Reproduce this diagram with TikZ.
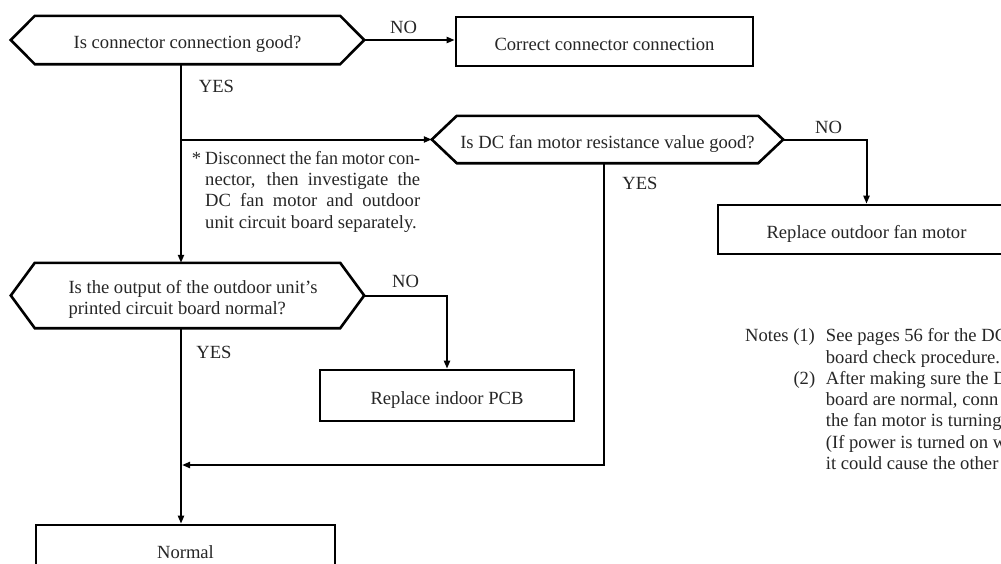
\documentclass[tikz,border=0pt]{standalone}
\usepackage{fontspec}
\usepackage{graphicx}
\setmainfont{Liberation Serif}
\usetikzlibrary{arrows.meta}
\newcommand\hexagonof[2]{%
  \draw[shapeline] ([xshift=-#2]#1.west) -- (#1.north west) -- (#1.north east)
    -- ([xshift=#2]#1.east) -- (#1.south east) -- (#1.south west) -- cycle;}
\newcommand\justline[1]{\makebox[215pt][s]{\spaceskip=1pt plus 1fil\relax #1}}
\begin{document}
\begin{tikzpicture}[x=1pt,y=-1pt,
  every node/.style={font=\fontsize{18.6}{21.3}\selectfont, text=black!85},
  shapeline/.style={line width=2.6pt, line join=miter},
  conn/.style={line width=2pt, line join=miter},
  arr/.style={conn, -{Triangle[length=8pt,width=6pt]}},
  hexq/.style={draw=none, inner sep=0pt, text height=17pt, text depth=0pt},
  boxn/.style={draw, line width=2.6pt, inner sep=0pt, text height=17pt, text depth=0pt},
  lbl/.style={inner sep=0pt, anchor=base}]
\clip (0,0) rectangle (1001,563);
% decision nodes
\node[hexq, minimum width=305pt, minimum height=48pt] (q1) at (187.5,40) {Is connector connection good?};
\node[hexq, minimum width=301pt, minimum height=47pt] (q2) at (607.5,139.5) {Is DC fan motor resistance value good?};
\node[hexq, minimum width=305pt, minimum height=65pt] (q3) at (187.5,295.5) {};
\node[lbl, anchor=base west] (q3a) at (68.3,293.3) {Is the output of the outdoor unit's};
\node[lbl, anchor=base west] (q3b) at (68.3,314.3) {printed circuit board normal?};
\hexagonof{q1}{24pt}
\hexagonof{q2}{25pt}
\hexagonof{q3}{24pt}
\coordinate (q1R) at ([xshift=24pt]q1.east);
\coordinate (q2L) at ([xshift=-25pt]q2.west);
\coordinate (q2R) at ([xshift=25pt]q2.east);
\coordinate (q3R) at ([xshift=24pt]q3.east);
% action boxes
\node[boxn, minimum width=297pt, minimum height=49pt] (b1) at (604.5,41.5) {Correct connector connection};
\node[boxn, minimum width=297pt, minimum height=49pt] (b2) at (866.5,229.5) {Replace outdoor fan motor};
\node[boxn, minimum width=254pt, minimum height=51pt] (b3) at (447,395.5) {Replace indoor PCB};
\node[boxn, minimum width=299pt, minimum height=50pt] (b4) at (185.5,550) {Normal};
% junctions
\coordinate (j1) at (181,139.5);
\coordinate (j2) at (604,465);
\coordinate (j3) at (182,465);
% connectors
\draw[conn] (q1.south -| j1) -- (j1);
\draw[arr] (j1) -- (q2L);
\draw[arr] (j1) -- (q3.north -| j1);
\draw[arr] (q1R) -- (q1R -| b1.west);
\draw[arr] (q2R) -| (b2.north);
\draw[arr] (q3R) -| (b3.north);
\draw[arr] (q2.south -| j2) -- (j2) -- (j3);
\draw[arr] (q3.south -| j1) -- (b4.north -| j1);
% labels
\node[lbl] (y1) at (216.5,92) {YES};
\node[lbl] (n1) at (403.5,33) {NO};
\node[lbl] (y2) at (640,189) {YES};
\node[lbl] (n2) at (828.5,133) {NO};
\node[lbl] (n3) at (405.5,287) {NO};
\node[lbl] (y3) at (214,358) {YES};
% asterisk note
\node[lbl, anchor=base west] (s0) at (191.7,164.3) {*};
\node[lbl, anchor=base west] (s1) at (205,164.3) {\scalebox{0.965}[1]{\makebox[222.8pt][s]{\spaceskip=1pt plus 1fil\relax Disconnect the fan motor con-}}};
\node[lbl, anchor=base west] (s2) at (205,185.6) {\justline{nector, then investigate the}};
\node[lbl, anchor=base west] (s3) at (205,206.9) {\justline{DC fan motor and outdoor}};
\node[lbl, anchor=base west] (s4) at (205,228.2) {unit circuit board separately.};
% notes
\node[lbl, anchor=base west] (nt0) at (745,341.7) {Notes (1)};
\node[lbl, anchor=base west] (nt1) at (825.7,341.7) {See pages 56 for the DC};
\node[lbl, anchor=base west] (nt2) at (825.7,363.0) {board check procedure.};
\node[lbl, anchor=base west] (nt3) at (793.3,384.3) {(2)};
\node[lbl, anchor=base west] (nt4) at (825.7,384.3) {After making sure the DC};
\node[lbl, anchor=base west] (nt5) at (825.7,405.6) {board are normal, conn};
\node[lbl, anchor=base west] (nt6) at (825.7,426.9) {the fan motor is turning};
\node[lbl, anchor=base west] (nt7) at (825.7,448.2) {(If power is turned on w};
\node[lbl, anchor=base west] (nt8) at (825.7,469.5) {it could cause the other};
\end{tikzpicture}
\end{document}
